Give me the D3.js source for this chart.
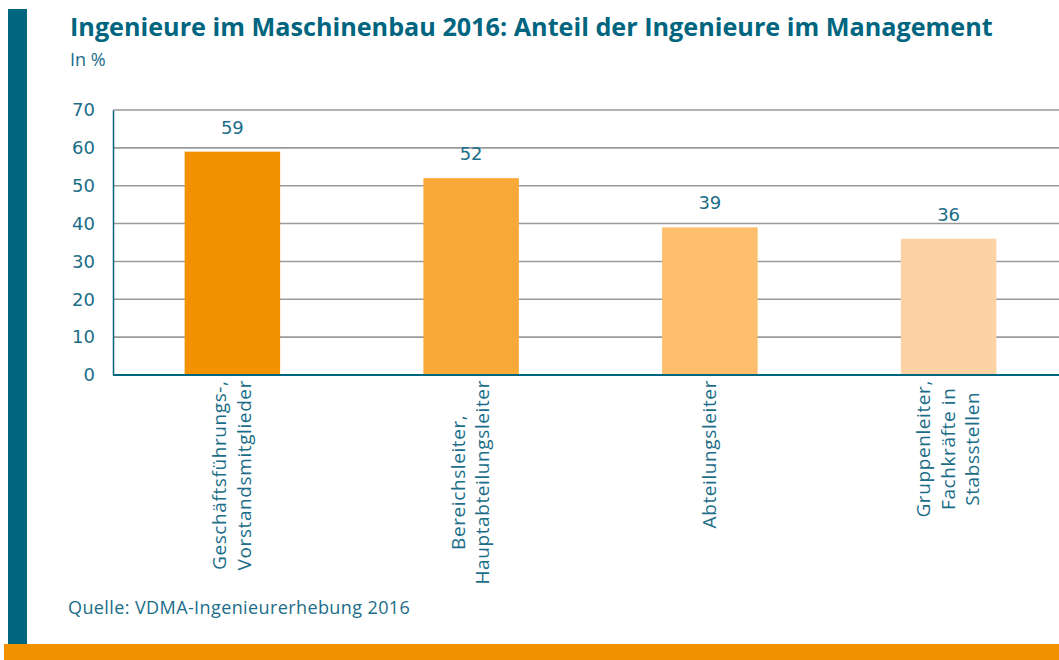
<!DOCTYPE html>
<html>
<head>
<meta charset="utf-8">
<script src="https://cdn.jsdelivr.net/npm/d3@7"></script>
<style>
  body { margin: 0; background: #fff; }
  svg { display: block; }
</style>
</head>
<body>
<svg id="chart" width="1059" height="660"></svg>
<script>
// Werte aus der Grafik
var categories = [
    ["Geschäftsführungs-,", "Vorstandsmitglieder"],
    ["Bereichsleiter,", "Hauptabteilungsleiter"],
    ["Abteilungsleiter"],
    ["Gruppenleiter,", "Fachkräfte in", "Stabsstellen"]
];
var values = [59, 52, 39, 36];
var barColors = ["#f39200", "#f9a937", "#fdbe6e", "#fdd3a6"];
var yTicks = [0, 10, 20, 30, 40, 50, 60, 70];

var teal = "#00657f";
var textTeal = "#1b6d88";

var svg = d3.select("#chart");

// Rahmen: linker Balken und unterer Streifen
svg.append("rect").attr("x", 8).attr("y", 9).attr("width", 19).attr("height", 636).attr("fill", teal);
svg.append("rect").attr("x", 4).attr("y", 644).attr("width", 1055).attr("height", 16).attr("fill", "#f39200");

svg.append("text")
    .attr("x", 70).attr("y", 36)
    .style("font-family", "Open Sans")
    .style("font-weight", "bold")
    .style("font-size", "25.2px")
    .attr("fill", teal)
    .text("Ingenieure im Maschinenbau 2016: Anteil der Ingenieure im Management");

svg.append("text")
    .attr("x", 70).attr("y", 66)
    .style("font-family", "Open Sans")
    .style("font-size", "18px")
    .attr("fill", textTeal)
    .text("In %");

var plotLeft = 113, plotRight = 1068, plotTop = 110, plotBottom = 375;

var x = d3.scaleBand()
    .domain(d3.range(values.length))
    .range([plotLeft, plotRight])
    .paddingInner(0.6)
    .paddingOuter(0.3);

var y = d3.scaleLinear().domain([0, 70]).range([plotBottom, plotTop]);

// Gitterlinien
svg.append("g")
    .selectAll("line")
    .data(yTicks.slice(1))
    .join("line")
    .attr("x1", plotLeft).attr("x2", 1059)
    .attr("y1", function(d) { return y(d); })
    .attr("y2", function(d) { return y(d); })
    .attr("stroke", "#9a9a9a")
    .attr("stroke-width", 1.6);

// y-Achse
var yAxis = svg.append("g")
    .attr("transform", "translate(" + plotLeft + ",0)")
    .call(d3.axisLeft(y).tickValues(yTicks).tickSize(0).tickPadding(18));
yAxis.select(".domain").attr("stroke", teal).attr("stroke-width", 1.5);
yAxis.selectAll("text")
    .style("font-family", "DejaVu Sans")
    .style("font-size", "18px")
    .attr("fill", textTeal);

// Balken
svg.append("g")
    .selectAll("rect")
    .data(values)
    .join("rect")
    .attr("x", function(d, i) { return x(i); })
    .attr("y", function(d) { return y(d); })
    .attr("width", x.bandwidth())
    .attr("height", function(d) { return plotBottom - y(d); })
    .attr("fill", function(d, i) { return barColors[i]; });

// Werte über den Balken
svg.append("g")
    .selectAll("text")
    .data(values)
    .join("text")
    .attr("x", function(d, i) { return x(i) + x.bandwidth() / 2; })
    .attr("y", function(d) { return y(d) - 18; })
    .attr("text-anchor", "middle")
    .style("font-family", "DejaVu Sans")
    .style("font-size", "18px")
    .attr("fill", textTeal)
    .text(function(d) { return d; });

// x-Achse
svg.append("line")
    .attr("x1", plotLeft).attr("x2", 1059)
    .attr("y1", plotBottom).attr("y2", plotBottom)
    .attr("stroke", teal).attr("stroke-width", 2);

// Kategorien, gedreht
categories.forEach(function(lines, i) {
    var cx = x(i) + x.bandwidth() / 2;
    var g = svg.append("g");
    var texts = g.selectAll("text")
        .data(lines)
        .join("text")
        .attr("text-anchor", "middle")
        .style("font-family", "Open Sans")
        .style("font-size", "19px")
        .style("letter-spacing", "0.6px")
        .attr("fill", textTeal)
        .text(function(d) { return d; });
    var maxLen = 0;
    texts.each(function() { maxLen = Math.max(maxLen, this.getComputedTextLength()); });
    var cy = 380 + maxLen / 2;
    var n = lines.length;
    texts.attr("transform", function(d, j) {
        var lx = cx + (j - (n - 1) / 2) * 24.5 + 6;
        return "translate(" + lx + "," + cy + ") rotate(-90)";
    });
});

svg.append("text")
    .attr("x", 68).attr("y", 614)
    .style("font-family", "Open Sans")
    .style("font-size", "18px")
    .style("letter-spacing", "0.4px")
    .attr("fill", textTeal)
    .text("Quelle: VDMA-Ingenieurerhebung 2016");
</script>
</body>
</html>
